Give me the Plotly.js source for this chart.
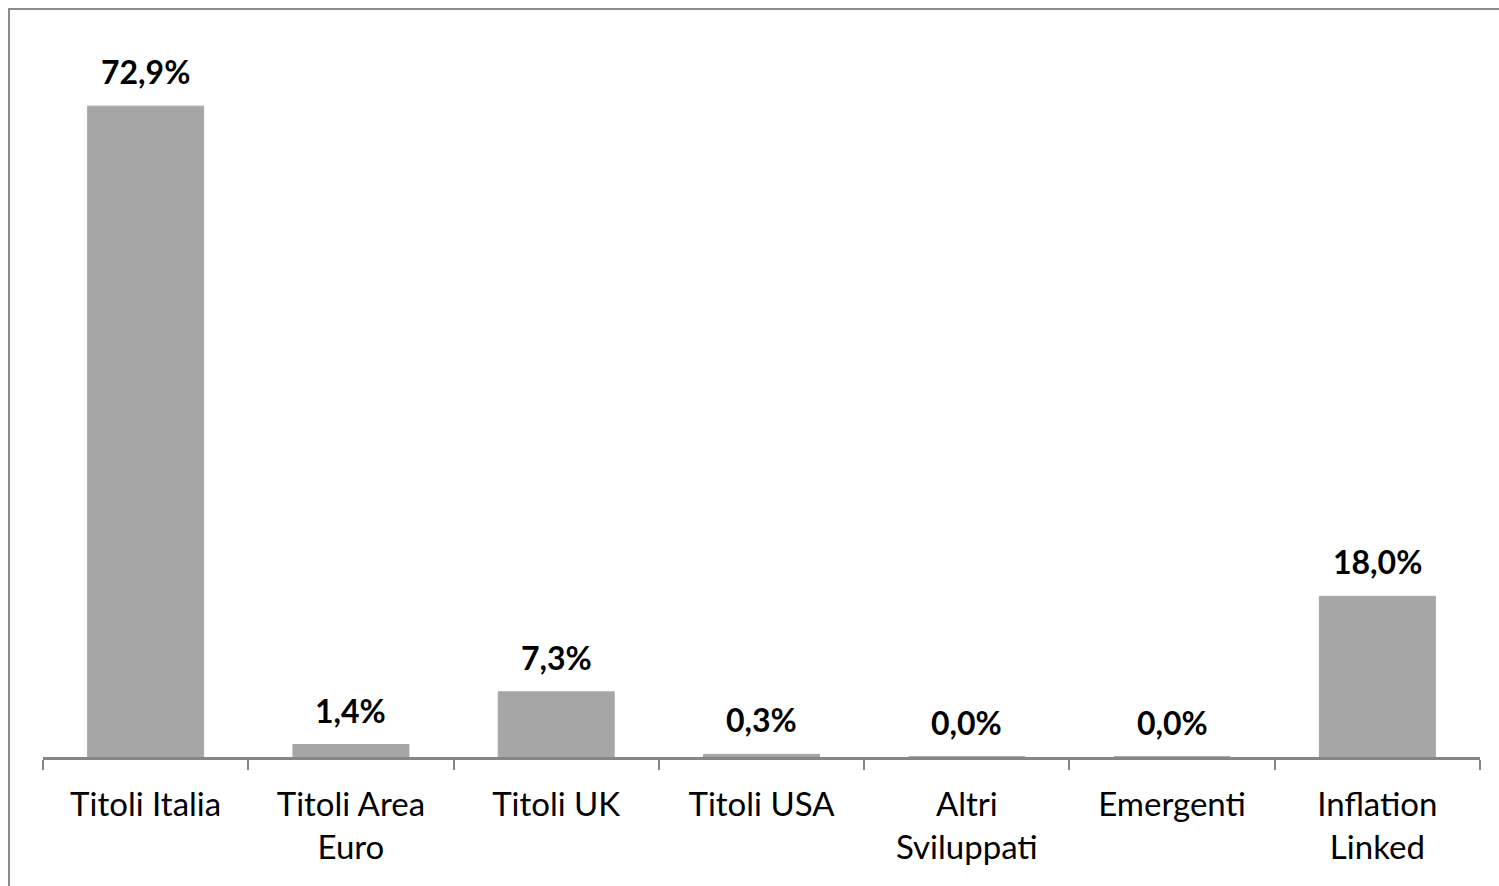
<!DOCTYPE html>
<html>
<head>
<meta charset="utf-8">
<script src="https://cdn.plot.ly/plotly-3.0.1.min.js"></script>
<style>
  html, body { margin: 0; padding: 0; background: #fff; overflow: hidden; }
  #chart { width: 1499px; height: 886px; position: absolute; left: 0; top: 0; }
  #frame { position: absolute; left: 8px; top: 8px; width: 1520px; height: 900px;
           border: 2px solid #8c8c8c; pointer-events: none; box-sizing: border-box; }
</style>
</head>
<body>
<div id="chart"></div>
<div id="frame"></div>
<script>
const categories = ["Titoli Italia", "Titoli Area<br>Euro", "Titoli UK", "Titoli USA", "Altri<br>Sviluppati", "Emergenti", "Inflation<br>Linked"];
const values = [72.9, 1.4, 7.3, 0.3, 0.04, 0.04, 18.0];
const valueLabels = values.map(v => v.toFixed(1).replace('.', ',') + '%');

const FONT = 'Lato, "Open Sans", sans-serif';

const trace = {
  type: 'bar',
  x: categories,
  y: values,
  marker: { color: '#A6A6A6', line: { width: 1, color: '#A6A6A6' } },
  hoverinfo: 'none'
};

const annotations = categories.map((c, i) => ({
  x: c, y: values[i], xref: 'x', yref: 'y',
  text: '<b>' + valueLabels[i] + '</b>',
  showarrow: false, yanchor: 'bottom', yshift: 13,
  font: { family: FONT, size: 32, color: '#000' }
}));

const layout = {
  width: 1499, height: 886,
  margin: { l: 43, r: 19, t: 20, b: 129, pad: 0 },
  paper_bgcolor: '#fff', plot_bgcolor: '#fff',
  showlegend: false,
  bargap: 0.435,
  xaxis: {
    type: 'category',
    showline: true, linecolor: '#868686', linewidth: 3,
    ticks: 'outside', tickson: 'boundaries', ticklen: 10, tickwidth: 2, tickcolor: '#868686',
    ticklabelstandoff: 16,
    tickfont: { family: FONT, size: 33, color: '#000' },
    showgrid: false, zeroline: false, fixedrange: true
  },
  yaxis: {
    range: [0, 82.55], visible: false, showgrid: false, zeroline: false, fixedrange: true
  },
  annotations: annotations
};

Plotly.newPlot('chart', [trace], layout, { staticPlot: true, displayModeBar: false });
</script>
</body>
</html>
